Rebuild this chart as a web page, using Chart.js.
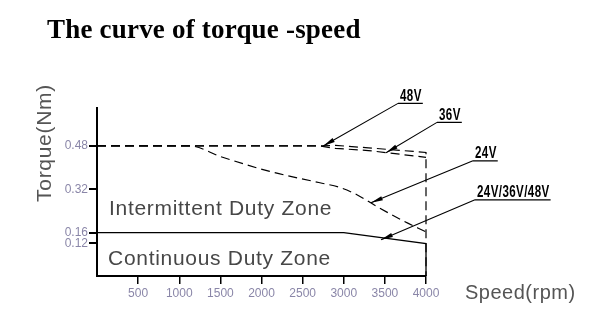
<!DOCTYPE html>
<html><head><meta charset="utf-8">
<script src="https://cdn.jsdelivr.net/npm/chart.js@4/dist/chart.umd.min.js"></script>
<style>html,body{margin:0;padding:0;background:#fff}#wrap{width:608px;height:335px;position:relative}</style>
</head><body><div id="wrap"><canvas id="c" width="608" height="335"></canvas></div>
<script>
// ---- data ----
const speed48  = [0, 2700, 2900, 3300, 4000, 4000];
const torque48 = [0.48, 0.48, 0.482, 0.473, 0.456, 0];
const speed36  = [0, 2700, 2900, 3300, 4000];
const torque36 = [0.48, 0.48, 0.471, 0.463, 0.438];
const speed24  = [0, 1130, 1500, 2100, 2710, 2950, 3160, 3400, 3720, 4000];
const torque24 = [0.48, 0.48, 0.441, 0.386, 0.344, 0.327, 0.300, 0.257, 0.204, 0.163];
const speedCont  = [0, 3000, 4000, 4000];
const torqueCont = [0.16, 0.16, 0.12, 0];
const xTickValues = [500, 1000, 1500, 2000, 2500, 3000, 3500, 4000];
const yTickValues = [0.12, 0.16, 0.32, 0.48];
const yTickLabels = ['0.12', '0.16', '0.32', '0.48'];
const seriesLabels = ['48V', '36V', '24V', '24V/36V/48V'];
const zoneLabels = ['Intermittent Duty Zone', 'Continuous Duty Zone'];
const titleText = 'The curve of torque -speed';
const xTitle = 'Speed(rpm)';
const yTitle = 'Torque(Nm)';

// ---- annotation placement (data coordinates) ----
const annotations = [
  {text: seriesLabels[0], ax: 3660, ay: 0.637, tx: 2750, ty: 0.48},
  {text: seriesLabels[1], ax: 4134, ay: 0.567, tx: 3514, ty: 0.455},
  {text: seriesLabels[2], ax: 4571, ay: 0.425, tx: 3331, ty: 0.270},
  {text: seriesLabels[3], ax: 4596, ay: 0.281, tx: 3453, ty: 0.134}
];
const zones = [
  {text: zoneLabels[0], x: 146, y: 0.226},
  {text: zoneLabels[1], x: 134, y: 0.042}
];

const pts = (xs, ys) => xs.map((v, i) => ({x: v, y: ys[i]}));
const dash = [9, 5];

const textPlugin = {
  id: 'texts',
  afterDraw(chart) {
    const {ctx, chartArea, scales: {x, y}} = chart;
    ctx.save();
    // title
    ctx.fillStyle = '#000';
    ctx.textAlign = 'left';
    ctx.textBaseline = 'alphabetic';
    ctx.font = 'bold 27px "Liberation Serif", "Times New Roman", serif';
    ctx.letterSpacing = '0.2px';
    ctx.fillText(titleText, 47, 38);
    // axis titles
    ctx.fillStyle = '#555';
    ctx.font = '20px "Liberation Sans", Arial, sans-serif';
    ctx.letterSpacing = '0.5px';
    ctx.fillText(xTitle, chartArea.right + 39, 299);
    ctx.save();
    ctx.translate(51, 143);
    ctx.rotate(-Math.PI / 2);
    ctx.font = '21px "Liberation Sans", Arial, sans-serif';
    ctx.letterSpacing = '0.7px';
    ctx.textAlign = 'center';
    ctx.fillText(yTitle, 0, 0);
    ctx.restore();
    // zone labels
    ctx.fillStyle = '#474747';
    ctx.font = '21px "Liberation Sans", Arial, sans-serif';
    ctx.letterSpacing = '0.7px';
    zones.forEach(z => ctx.fillText(z.text, x.getPixelForValue(z.x), y.getPixelForValue(z.y)));
    // annotations
    ctx.letterSpacing = '0.6px';
    ctx.font = 'bold 17px "Liberation Sans", Arial, sans-serif';
    ctx.fillStyle = '#000';
    ctx.strokeStyle = '#000';
    ctx.lineWidth = 1.1;
    const sx = 0.68;
    annotations.forEach(a => {
      const ax = x.getPixelForValue(a.ax), ay = y.getPixelForValue(a.ay);
      const tx = x.getPixelForValue(a.tx), ty = y.getPixelForValue(a.ty);
      const w = ctx.measureText(a.text).width * sx;
      ctx.save();
      ctx.translate(ax + 2, ay - 2.5);
      ctx.scale(sx, 1);
      ctx.fillText(a.text, 0, 0);
      ctx.restore();
      ctx.beginPath();
      ctx.moveTo(ax, ay); ctx.lineTo(ax + w + 3, ay);
      ctx.moveTo(ax, ay); ctx.lineTo(tx, ty);
      ctx.stroke();
      // arrow head
      const ang = Math.atan2(ay - ty, ax - tx);
      const L = 12, H = 2.2;
      const bx = tx + L * Math.cos(ang), by = ty + L * Math.sin(ang);
      ctx.beginPath();
      ctx.moveTo(tx, ty);
      ctx.lineTo(bx - H * Math.sin(ang), by + H * Math.cos(ang));
      ctx.lineTo(bx + H * Math.sin(ang), by - H * Math.cos(ang));
      ctx.closePath();
      ctx.fill();
    });
    ctx.restore();
  }
};

const tickColor = '#8a86a8';
const tickFont = {family: '"Liberation Sans", Arial, sans-serif', size: 12};

new Chart(document.getElementById('c'), {
  type: 'line',
  data: {
    datasets: [
      {label: '48V', data: pts(speed48, torque48), borderColor: '#000', borderWidth: 1.2, borderDash: dash, pointRadius: 0, tension: 0, clip: 10},
      {label: '36V', data: pts(speed36, torque36), borderColor: '#000', borderWidth: 1.2, borderDash: dash, pointRadius: 0, tension: 0, clip: 10},
      {label: '24V', data: pts(speed24, torque24), borderColor: '#000', borderWidth: 1.2, borderDash: dash, pointRadius: 0, cubicInterpolationMode: 'monotone', clip: 10},
      {label: '24V/36V/48V', data: pts(speedCont, torqueCont), borderColor: '#000', borderWidth: 1.3, pointRadius: 0, tension: 0, clip: 10}
    ]
  },
  options: {
    responsive: false,
    animation: false,
    layout: {padding: {left: 0, top: 108, right: 182, bottom: 0}},
    plugins: {legend: {display: false}, tooltip: {enabled: false}, title: {display: false}},
    scales: {
      x: {
        type: 'linear', min: 0, max: 4000,
        afterBuildTicks: s => { s.ticks = xTickValues.map(v => ({value: v})); },
        afterFit: s => { s.height = 59; },
        border: {display: true, color: '#000', width: 2},
        grid: {display: true, drawOnChartArea: false, drawTicks: true, tickLength: 8, color: '#000', lineWidth: 1.5},
        ticks: {color: tickColor, font: tickFont, padding: 2, maxRotation: 0, autoSkip: false,
          callback: (v) => String(v)}
      },
      y: {
        type: 'linear', min: 0, max: 0.62,
        afterBuildTicks: s => { s.ticks = yTickValues.map(v => ({value: v})); },
        afterFit: s => { s.width = 97; },
        border: {display: true, color: '#000', width: 2},
        grid: {display: true, drawOnChartArea: false, drawTicks: true, tickLength: 8, color: '#000', lineWidth: 2},
        ticks: {color: tickColor, font: tickFont, padding: 1, autoSkip: false,
          callback: (v) => { const i = yTickValues.indexOf(v); return i >= 0 ? yTickLabels[i] : ''; }}
      }
    }
  },
  plugins: [textPlugin]
});
</script>
</body></html>
